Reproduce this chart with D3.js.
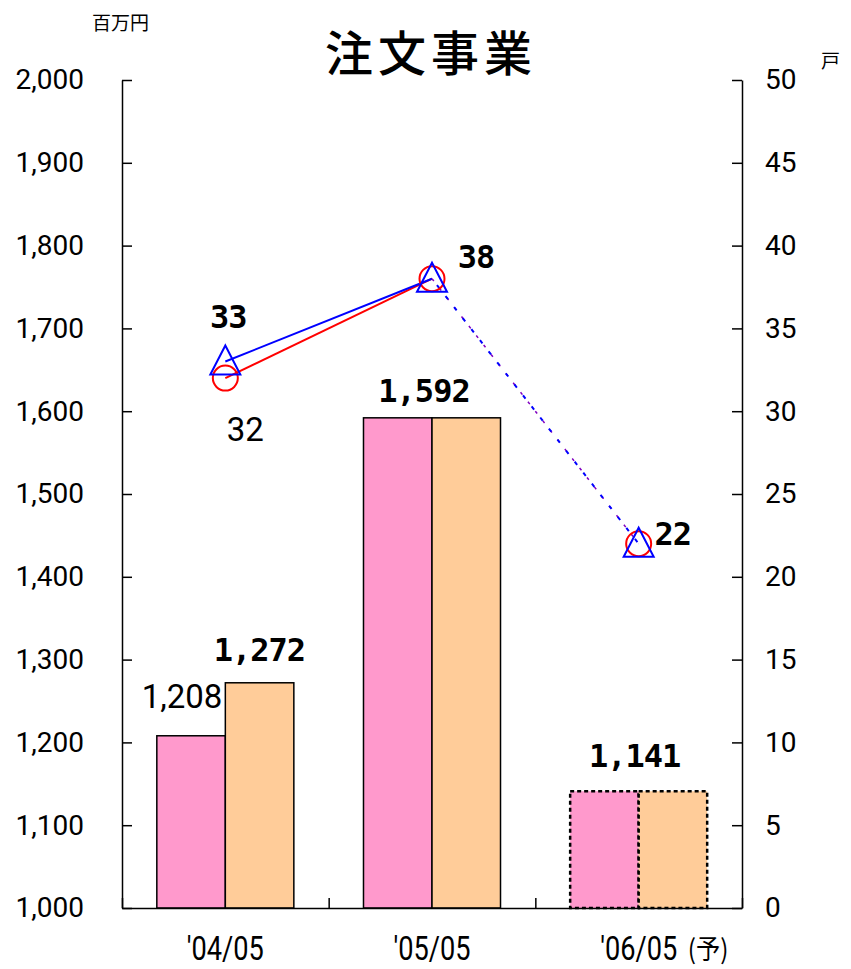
<!DOCTYPE html>
<html>
<head>
<meta charset="utf-8">
<script src="https://cdn.jsdelivr.net/npm/d3@7"></script>
<style>
  html, body { margin: 0; padding: 0; background: #fff; }
  svg { display: block; }
</style>
</head>
<body>
<script>
// 注文事業: sales (百万円, bars) and units (戸, lines)
const categories = ["'04/05", "'05/05", "'06/05"];
const salesPink = [1208, 1592, 1141];
const salesPeach = [1272, 1592, 1141];
const unitsRed = [32, 38, 22];
const unitsBlue = [33, 38, 22];
const leftTicks = [1000, 1100, 1200, 1300, 1400, 1500, 1600, 1700, 1800, 1900, 2000];
const rightTicks = [0, 5, 10, 15, 20, 25, 30, 35, 40, 45, 50];

const W = 851, H = 969;
const L = 122, R = 742, T = 80, B = 908;

const svg = d3.select("body").append("svg").attr("width", W).attr("height", H);

const x = d3.scaleBand().domain(categories).range([L, R]).paddingInner(0.337).paddingOuter(0.1685);
const xs = d3.scaleBand().domain([0, 1]).range([0, x.bandwidth()]);
const yL = d3.scaleLinear().domain([1000, 2000]).range([B, T]);
const yR = d3.scaleLinear().domain([0, 50]).range([B, T]);
const cx = c => x(c) + x.bandwidth() / 2;

const numFmt = d3.format(",");
const tickFont = "Roboto, 'Liberation Sans', sans-serif";
const boldFont = "'DejaVu Sans Mono', monospace";
const jpFont = "'Noto Sans CJK JP', sans-serif";

// bars
const barData = [];
categories.forEach((c, i) => {
  barData.push({ c, s: 0, v: salesPink[i], fill: "#FF99CC", est: i === 2 });
  barData.push({ c, s: 1, v: salesPeach[i], fill: "#FFCC99", est: i === 2 });
});
svg.append("g").selectAll("rect").data(barData).join("rect")
  .attr("x", d => x(d.c) + xs(d.s))
  .attr("y", d => yL(d.v))
  .attr("width", xs.bandwidth())
  .attr("height", d => B - yL(d.v))
  .attr("fill", d => d.fill)
  .attr("stroke", "#000")
  .attr("stroke-width", d => d.est ? 2.5 : 1.5)
  .attr("stroke-dasharray", d => d.est ? "4,3" : null);

// axes
const axisStyle = g => {
  g.selectAll("path, line").attr("stroke", "#000").attr("stroke-width", 1.5);
  g.selectAll("text").attr("fill", "#000").attr("font-family", tickFont).attr("font-size", 28);
};
svg.append("g").attr("transform", `translate(${L},0)`)
  .call(d3.axisLeft(yL).tickValues(leftTicks).tickFormat(numFmt).tickSize(-10).tickSizeOuter(0).tickPadding(38))
  .call(axisStyle);
svg.append("g").attr("transform", `translate(${R},0)`)
  .call(d3.axisRight(yR).tickValues(rightTicks).tickFormat(d3.format("d")).tickSize(-10).tickSizeOuter(0).tickPadding(23))
  .call(axisStyle);
const xb = d3.scaleLinear().domain([0, 3]).range([L, R]);
svg.append("g").attr("transform", `translate(0,${B})`)
  .call(d3.axisBottom(xb).tickValues([0, 1, 2, 3]).tickFormat("").tickSize(-10).tickSizeOuter(0))
  .call(axisStyle);

// category labels
const xl = svg.append("g");
categories.forEach((c, i) => {
  const g = xl.append("g").attr("transform", `translate(${cx(c)},960) scale(0.8,1)`);
  g.append("text").attr("text-anchor", "middle").attr("font-family", tickFont)
    .attr("font-size", 34).attr("fill", "#000").text(c);
});
xl.append("g").attr("transform", `translate(${cx(categories[2]) + 49},959) scale(0.9,1)`)
  .append("text").attr("text-anchor", "start").attr("font-family", jpFont)
  .attr("font-size", 27).attr("fill", "#000").text("(予)");

// lines
const pts = (arr, from, to) => arr.slice(from, to).map((v, k) => ({ v, i: k + from }));
const px = i => cx(categories[i]);
const line = d3.line().x(d => px(d.i)).y(d => yR(d.v));
const lineG = svg.append("g").attr("fill", "none");
lineG.append("path").attr("d", line(pts(unitsRed, 0, 2)))
  .attr("stroke", "#FF0000").attr("stroke-width", 2);
lineG.append("path").attr("d", line(pts(unitsBlue, 0, 2)))
  .attr("stroke", "#0000FF").attr("stroke-width", 2);
lineG.append("path").attr("d", line(pts(unitsRed, 1, 3)))
  .attr("stroke", "#8000C0").attr("stroke-width", 1.5).attr("stroke-dasharray", "3,9");
lineG.append("path").attr("d", line(pts(unitsBlue, 1, 3)))
  .attr("stroke", "#0000FF").attr("stroke-width", 2).attr("stroke-dasharray", "4,10").attr("stroke-dashoffset", 6);

// markers
svg.append("g").selectAll("circle").data(unitsRed).join("circle")
  .attr("cx", (d, i) => px(i)).attr("cy", d => yR(d)).attr("r", 12.5)
  .attr("fill", "none").attr("stroke", "#FF0000").attr("stroke-width", 2);
svg.append("g").selectAll("path").data(unitsBlue).join("path")
  .attr("transform", (d, i) => `translate(${px(i)},${yR(d)})`)
  .attr("d", "M0,-16L15,13L-15,13Z")
  .attr("fill", "none").attr("stroke", "#0000FF").attr("stroke-width", 2);

// value labels
const lab = svg.append("g").attr("fill", "#000");
const bold = (t, xx, yy, anchor) => lab.append("text").attr("x", xx).attr("y", yy)
  .attr("text-anchor", anchor || "middle").attr("font-family", boldFont).attr("font-weight", "bold")
  .attr("font-size", 32).attr("letter-spacing", -1).text(t);
const plain = (t, xx, yy, anchor) => lab.append("text").attr("x", xx).attr("y", yy)
  .attr("text-anchor", anchor || "middle").attr("font-family", tickFont)
  .attr("font-size", 33).text(t);

// bar values
plain(numFmt(salesPink[0]), x(categories[0]) + xs(0) + xs.bandwidth() - 3, yL(salesPink[0]) - 28, "end");
bold(numFmt(salesPeach[0]), x(categories[0]) + xs(1) + 34, yL(salesPeach[0]) - 22);
bold(numFmt(salesPeach[1]), cx(categories[1]) - 8, yL(salesPeach[1]) - 16);
bold(numFmt(salesPeach[2]), cx(categories[2]) - 4, yL(salesPeach[2]) - 24);

// unit values
bold(String(unitsBlue[0]), px(0) + 3, yR(unitsBlue[0]) - 34);
plain(String(unitsRed[0]), px(0) + 20, yR(unitsRed[0]) + 63);
bold(String(unitsBlue[1]), px(1) + 44, yR(unitsBlue[1]) - 11);
bold(String(unitsBlue[2]), px(2) + 34, yR(unitsBlue[2]) + 1);

// title and unit captions
svg.append("text").attr("x", 431).attr("y", 71).attr("text-anchor", "middle")
  .attr("font-family", jpFont).attr("font-size", 48).attr("font-weight", 500)
  .attr("letter-spacing", 5).attr("fill", "#000").text("注文事業");
svg.append("text").attr("x", 92).attr("y", 30)
  .attr("font-family", jpFont).attr("font-size", 19)
  .attr("fill", "#000").text("百万円");
svg.append("text").attr("x", 821).attr("y", 68)
  .attr("font-family", jpFont).attr("font-size", 19)
  .attr("fill", "#000").text("戸");
</script>
</body>
</html>
